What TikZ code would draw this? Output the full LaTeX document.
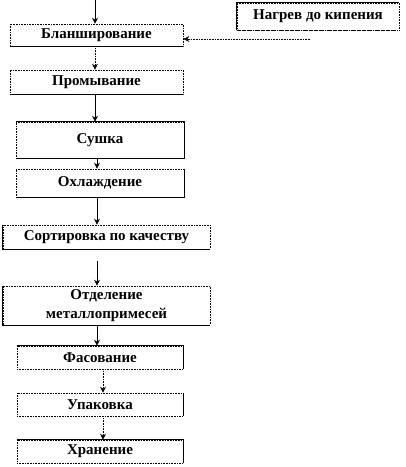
\documentclass[tikz,border=0pt]{standalone}
\usepackage{fontspec}
\setmainfont{Liberation Serif}
\usetikzlibrary{arrows.meta}
\begin{document}
\begin{tikzpicture}[x=1pt,y=-1pt,
  box/.style={draw=black, densely dotted, line width=0.6pt, inner sep=0pt, align=center,
    font=\fontsize{15}{19}\selectfont\bfseries},
  solidedge/.style={line width=0.6pt, solid},
  arr/.style={line width=0.6pt, -{Stealth[length=6pt,width=6pt]}},
  darr/.style={arr, densely dotted}]
\useasboundingbox (0,0) rectangle (406,467);
\node[box, minimum width=173pt, minimum height=22pt] (blan) at (96.5,35) {Бланширование};
\node[box, minimum width=173pt, minimum height=24pt] (prom) at (96.5,82) {Промывание};
\node[box, minimum width=168pt, minimum height=36pt] (sush) at (100,140) {Сушка};
\node[box, minimum width=168pt, minimum height=28pt] (ohl) at (100,183) {Охлаждение};
\node[box, minimum width=207pt, minimum height=24pt] (sort) at (106.5,237) {Сортировка по качеству};
\node[box, minimum width=207pt, minimum height=39pt] (otd) at (106.5,305.5) {Отделение\\металлопримесей};
\node[box, minimum width=166pt, minimum height=23pt] (fas) at (100,357.5) {Фасование};
\node[box, minimum width=166pt, minimum height=23pt] (upak) at (100,404.5) {Упаковка};
\node[box, minimum width=166pt, minimum height=23pt] (hran) at (100,451.5) {Хранение};
\node[box, minimum width=162pt, minimum height=27pt] (nag) at (318,16.5) {Нагрев до кипения};
% solid edges
\draw[solidedge] (blan.south west) -- (blan.south east);
\draw[solidedge] (prom.south west) -- (prom.south east);
\draw[solidedge] (sush.north west) -- (sush.north east) -- (sush.south east) -- (sush.south west);
\draw[solidedge] (ohl.north east) -- (ohl.south east) -- (ohl.south west);
\draw[solidedge] (sort.north west) -- (sort.south west) -- (sort.south east);
\draw[solidedge] (otd.north west) -- (otd.south west) -- (otd.south east);
\draw[solidedge] (fas.north west) -- (fas.north east) -- (fas.south east);
\draw[solidedge] (upak.north east) -- (upak.south east);
\draw[solidedge] (hran.north west) -- (hran.north east) -- (hran.south east);
\draw[solidedge] (nag.south west) -- (nag.north west) -- (nag.north east);
\draw[line width=0.6pt, dashed] (nag.south west) -- (nag.south east);
% connectors
\coordinate (in) at (95,0);
\draw[arr] (in) -- (in |- blan.north);
\coordinate (heat) at (310,39);
\draw[darr] (heat) -- (heat -| blan.east);
\draw[darr] ([xshift=-1.5pt]blan.south) -- ([xshift=-1.5pt]blan.south |- prom.north);
\draw[arr] ([xshift=-1.5pt]prom.south) -- ([xshift=-1.5pt]prom.south |- sush.north);
\draw[arr] ([xshift=-3pt]sush.south) -- ([xshift=-3pt]sush.south |- ohl.north);
\draw[arr] ([xshift=-3pt]ohl.south) -- ([xshift=-3pt]ohl.south |- sort.north);
\draw[arr] ([xshift=-9.5pt,yshift=-12pt]sort.south) -- ([xshift=-9.5pt]sort.south |- otd.north);
\draw[arr] ([xshift=-9.5pt]otd.south) -- ([xshift=-9.5pt]otd.south |- fas.north);
\draw[darr] ([xshift=3pt]fas.south) -- ([xshift=3pt]fas.south |- upak.north);
\draw[darr] ([xshift=3pt]upak.south) -- ([xshift=3pt]upak.south |- hran.north);
\end{tikzpicture}
\end{document}
